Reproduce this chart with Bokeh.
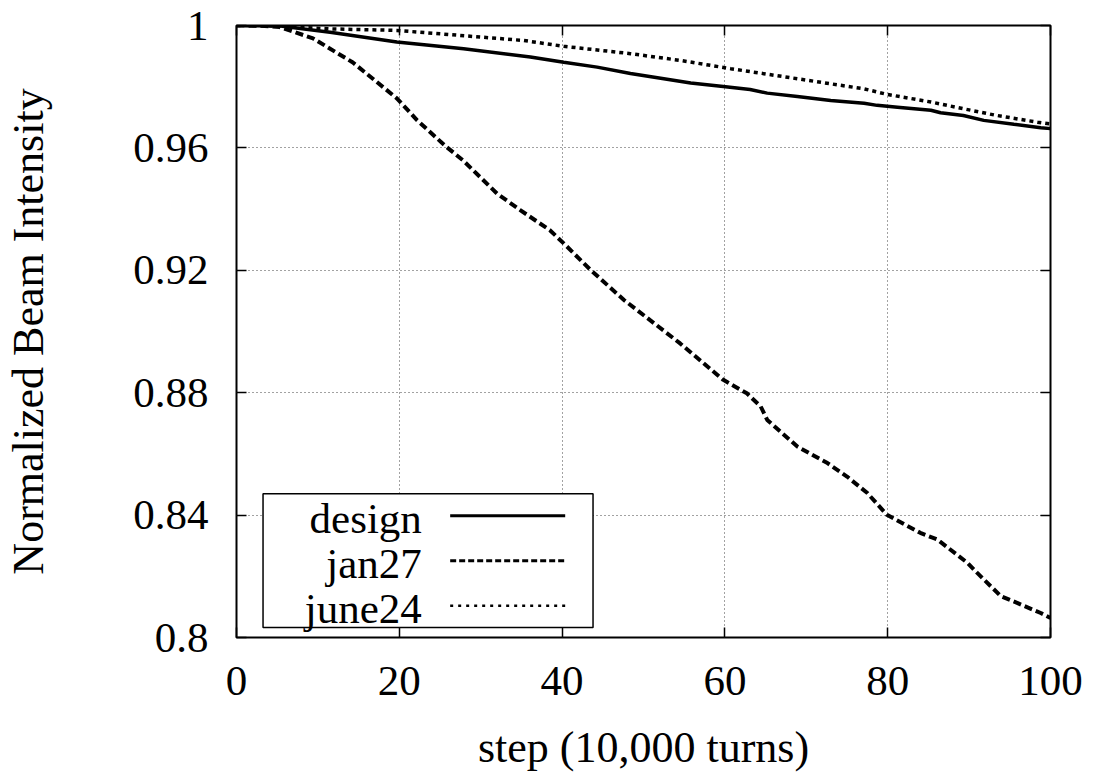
from bokeh.plotting import figure
from bokeh.models import FixedTicker, LinearAxis, CustomJSTickFormatter
from bokeh.core.properties import value
from bokeh.embed import file_html
from bokeh.resources import INLINE

# ---- data -------------------------------------------------------------
design_x = [0, 5.4, 11.5, 19.7, 27.9, 36.1, 40.2, 44.3, 48.4, 52.5, 55.8, 59.8,
            63.1, 65.2, 68.9, 73.0, 77.1, 78.7, 81.2, 85.3, 86.5, 89.3, 91.8,
            95.5, 98.8, 100]
design_y = [1.0, 0.9998, 0.9978, 0.9946, 0.9924, 0.9897, 0.9880, 0.9864, 0.9843,
            0.9826, 0.9812, 0.9801, 0.9791, 0.9779, 0.9768, 0.9755, 0.9746, 0.9739,
            0.9733, 0.9723, 0.9715, 0.9706, 0.9690, 0.9677, 0.9666, 0.9663]

jan27_x = [0, 3, 5.3, 9.4, 14.3, 19.7, 22.2, 25.8, 27.8, 32.0, 34.9, 38.5, 40.2,
           43.5, 47.6, 52.9, 54.5, 59.8, 62.7, 64.4, 65.2, 68.9, 72.6, 75.0, 77.5,
           79.9, 84.0, 86.1, 89.8, 91.0, 93.9, 95.9, 98.8, 100]
jan27_y = [1.0, 0.9999, 0.9995, 0.9958, 0.9879, 0.9762, 0.9690, 0.9603, 0.9560,
           0.9451, 0.9396, 0.9331, 0.9288, 0.9201, 0.9103, 0.8994, 0.8961, 0.8842,
           0.8798, 0.8755, 0.8711, 0.8624, 0.8570, 0.8526, 0.8472, 0.8401, 0.8342,
           0.8320, 0.8244, 0.8211, 0.8135, 0.8113, 0.8080, 0.8064]

june24_x = [0, 3.3, 11.5, 19.7, 35.3, 40.2, 48.4, 54.5, 60.7, 68.9, 77.1, 79.9,
            85.3, 89.3, 93.4, 98.4, 100]
june24_y = [1.0, 1.0, 0.9989, 0.9984, 0.9951, 0.9932, 0.9908, 0.9886, 0.9859,
            0.9826, 0.9793, 0.9775, 0.9750, 0.9728, 0.9706, 0.9684, 0.9678]

series_names = ["design", "jan27", "june24"]

x_ticks = [0, 20, 40, 60, 80, 100]
y_ticks = [0.8, 0.84, 0.88, 0.92, 0.96, 1.0]

x_title = "step (10,000 turns)"
y_title = "Normalized Beam Intensity"

# ---- styling ----------------------------------------------------------
FONT = "Liberation Serif"
FS = "43px"
TITLE_FS = "44px"

p = figure(frame_width=814, frame_height=612,
           output_backend="svg", toolbar_location=None,
           x_range=(0, 100), y_range=(0.8, 1.0),
           min_border_left=236, min_border_right=43,
           min_border_top=25, min_border_bottom=10)
p.background_fill_color = "white"
p.border_fill_color = "white"
p.outline_line_color = "black"
p.outline_line_width = 2
p.outline_line_alpha = 1.0

label_fmt = CustomJSTickFormatter(code="return String(tick);")
blank_fmt = CustomJSTickFormatter(code="return '';")

for ax in (p.xaxis[0], p.yaxis[0]):
    ax.major_label_text_font = FONT
    ax.major_label_text_font_size = FS
    ax.major_label_text_color = "black"
    ax.axis_label_text_font = FONT
    ax.axis_label_text_font_size = TITLE_FS
    ax.axis_label_text_font_style = "normal"
    ax.axis_label_text_color = "black"
    ax.major_tick_in = 10
    ax.major_tick_out = 0
    ax.minor_tick_line_color = None
    ax.major_tick_line_color = "black"
    ax.major_tick_line_width = 1.5
    ax.axis_line_color = None
    ax.formatter = label_fmt

p.xaxis[0].ticker = FixedTicker(ticks=x_ticks)
p.yaxis[0].ticker = FixedTicker(ticks=y_ticks)
p.xaxis[0].axis_label = x_title
p.yaxis[0].axis_label = y_title
p.xaxis[0].major_label_standoff = 29
p.xaxis[0].axis_label_standoff = 25
p.yaxis[0].major_label_standoff = 28
p.yaxis[0].axis_label_standoff = 77

# mirrored inward ticks on top and right
top_ax = LinearAxis(ticker=FixedTicker(ticks=x_ticks), formatter=blank_fmt)
right_ax = LinearAxis(ticker=FixedTicker(ticks=y_ticks), formatter=blank_fmt)
for ax in (top_ax, right_ax):
    ax.major_tick_in = 10
    ax.major_tick_out = 0
    ax.minor_tick_line_color = None
    ax.major_tick_line_color = "black"
    ax.major_tick_line_width = 1.5
    ax.axis_line_color = None
    ax.major_label_text_font_size = "0px"
    ax.major_label_standoff = 0
p.add_layout(top_ax, "above")
p.add_layout(right_ax, "right")

# dotted grid at interior ticks
p.xgrid[0].ticker = FixedTicker(ticks=x_ticks[1:-1])
p.ygrid[0].ticker = FixedTicker(ticks=y_ticks[1:-1])
for g in (p.xgrid[0], p.ygrid[0]):
    g.grid_line_color = "#444444"
    g.grid_line_width = 1
    g.grid_line_dash = "1 3"
    g.grid_line_alpha = 1.0

# ---- curves -----------------------------------------------------------
p.line(design_x, design_y, line_color="black", line_width=3.5)
p.line(jan27_x, jan27_y, line_color="black", line_width=4, line_dash="8 4")
p.line(june24_x, june24_y, line_color="black", line_width=3.5, line_dash="4 4")

# ---- key box (data units) ---------------------------------------------
box_l, box_r, box_b, box_t = 3.26, 43.8, 0.8033, 0.8470
p.quad(left=[box_l], right=[box_r], bottom=[box_b], top=[box_t],
       fill_color="white", line_color="black", line_width=1.5)

text_x = 22.77
text_base = [0.8388, 0.8241, 0.8094]
sample_x0, sample_x1 = 26.25, 40.38
sample_y = [0.8398, 0.8251, 0.8104]
sample_styles = [dict(line_width=3, line_dash="solid"),
                 dict(line_width=3, line_dash="6 3"),
                 dict(line_width=2.5, line_dash="3 5")]

p.text(x=[text_x] * 3, y=text_base, text=series_names,
       text_font=value(FONT), text_font_size=value(FS),
       text_align="right", text_baseline="alphabetic", text_color="black")
for yy, st in zip(sample_y, sample_styles):
    p.line([sample_x0, sample_x1], [yy, yy], line_color="black", **st)

open("out.html", "w").write(file_html(p, INLINE))
